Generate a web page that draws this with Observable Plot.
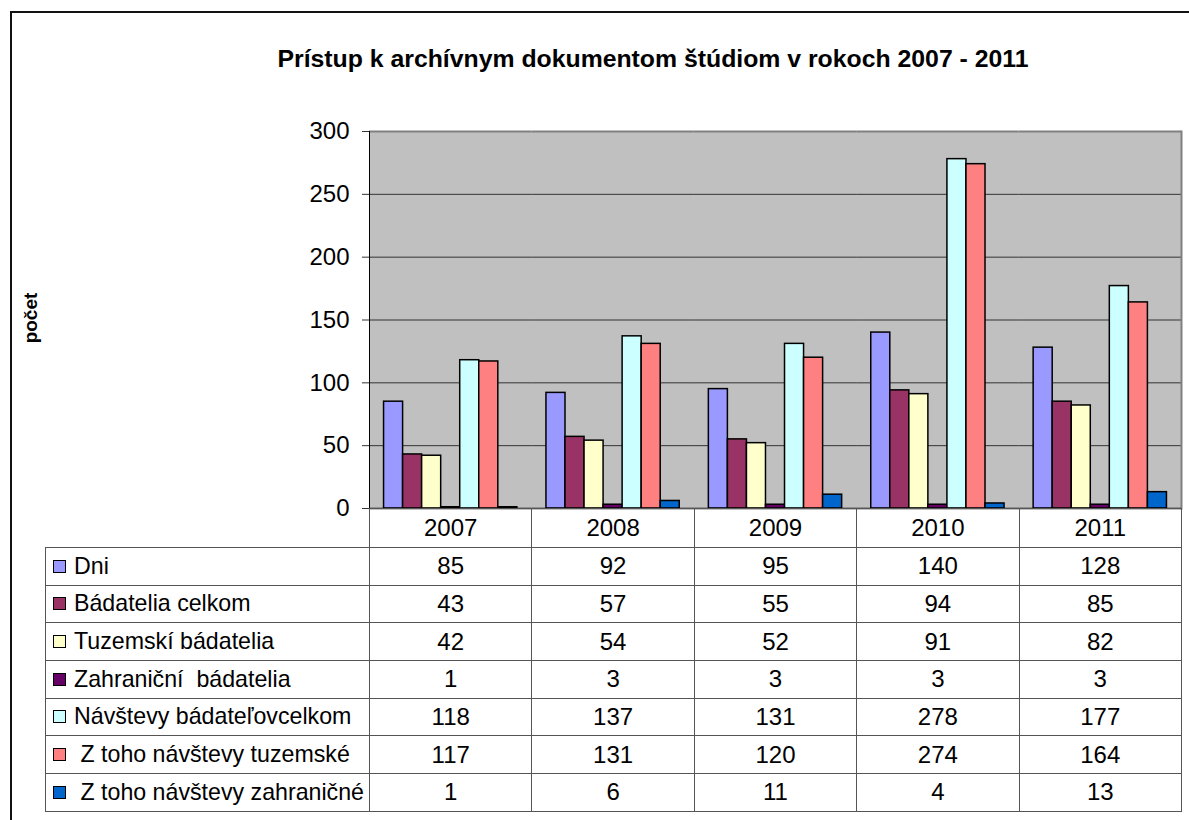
<!DOCTYPE html>
<html><head><meta charset="utf-8">
<script src="https://cdn.jsdelivr.net/npm/d3@7"></script>
<script src="https://cdn.jsdelivr.net/npm/@observablehq/plot@0.6"></script>
<style>
body{margin:0;width:1189px;height:820px;overflow:hidden;position:relative;background:#fff;font-family:"Liberation Sans",Arial,sans-serif;color:#000;}
#frame{position:absolute;left:10px;top:11px;width:1300px;height:900px;border:2px solid #111;box-sizing:border-box;}
#title{position:absolute;top:45px;left:0;width:1306px;text-align:center;font-weight:bold;font-size:24.8px;}
#ylabel{position:absolute;left:31px;top:318px;transform:translate(-50%,-50%) rotate(-90deg);font-weight:bold;font-size:19px;white-space:nowrap;}
#chart{position:absolute;left:0;top:111px;}
#tbl{position:absolute;left:45px;top:508px;border-collapse:collapse;table-layout:fixed;font-size:24px;width:1136px;}
#tbl td{border:1px solid #555;padding:0;white-space:pre;line-height:1;overflow:hidden;}
#tbl td.num{text-align:center;}
#tbl td.key{font-size:23.2px;}
#tbl tr.head td{height:38px;}
#tbl tr.row td{height:36.7px;}
#tbl td.corner{border-top:none;border-left:none;}
.sw{display:inline-block;width:11px;height:11px;border:1px solid #000;margin:0 8px 0 7px;vertical-align:1px;}
</style>
</head><body>
<div id="frame"></div>
<div id="title">Prístup k archívnym dokumentom štúdiom v rokoch 2007 - 2011</div>
<div id="ylabel">počet</div>
<div id="chart"></div>
<table id="tbl"></table>
<script>
const years = ["2007","2008","2009","2010","2011"];
const series = ["Dni","Bádatelia celkom","Tuzemskí bádatelia","Zahraniční  bádatelia","Návštevy bádateľovcelkom"," Z toho návštevy tuzemské"," Z toho návštevy zahraničné"];
const colors = ["#9999FF","#993366","#FFFFCC","#660066","#CCFFFF","#FF8080","#0066CC"];
const dni = [85,92,95,140,128];
const badateliaCelkom = [43,57,55,94,85];
const tuzemski = [42,54,52,91,82];
const zahranicni = [1,3,3,3,3];
const navstevyCelkom = [118,137,131,278,177];
const navstevyTuzemske = [117,131,120,274,164];
const navstevyZahranicne = [1,6,11,4,13];
const yTicks = [0,50,100,150,200,250,300];

const values = [dni,badateliaCelkom,tuzemski,zahranicni,navstevyCelkom,navstevyTuzemske,navstevyZahranicne];
const data = series.flatMap((s,i)=>years.map((y,j)=>({series:s,year:y,value:values[i][j]})));

const chart = Plot.plot({
  width:1189, height:398, marginLeft:369, marginRight:8, marginTop:20, marginBottom:1,
  style:{fontFamily:'"Liberation Sans",Arial,sans-serif', fontSize:"24px", color:"#000", background:"transparent", overflow:"visible"},
  fx:{domain:years, padding:0, round:false, axis:null, label:null},
  x:{domain:series, paddingInner:0, paddingOuter:0.764, round:false, axis:null, label:null},
  y:{domain:[0,300], axis:null, label:null},
  color:{domain:series, range:colors},
  marks:[
    Plot.frame({fill:"#c0c0c0", facet:"super"}),
    Plot.ruleY(yTicks.slice(1,-1), {stroke:"#333", strokeWidth:1}),
    Plot.ruleY([300], {stroke:"#808080", strokeWidth:2}),
    Plot.frame({anchor:"right", stroke:"#808080", strokeWidth:2, facet:"super"}),
    Plot.barY(data, {fx:"year", x:"series", y:"value", fill:"series", stroke:"#000", strokeWidth:1.5}),
    Plot.ruleY([0], {stroke:"#000", strokeWidth:1.5}),
    Plot.frame({anchor:"left", stroke:"#000", strokeWidth:1, facet:"super"}),
    Plot.axisY(yTicks, {tickSize:7, tickPadding:13, fontSize:24, stroke:"#333", label:null})
  ]
});
document.getElementById("chart").appendChild(chart);

// data table with legend keys
const tbl = d3.select("#tbl");
const cg = tbl.append("colgroup");
cg.append("col").style("width","324px");
years.forEach(()=>cg.append("col").style("width","162.4px"));
const head = tbl.append("tr").attr("class","head");
head.append("td").attr("class","corner");
years.forEach(y=>head.append("td").attr("class","num").text(y));
series.forEach((s,i)=>{
  const tr = tbl.append("tr").attr("class","row");
  const td = tr.append("td").attr("class","key");
  td.append("span").attr("class","sw").style("background",colors[i]);
  td.append("span").text(s);
  values[i].forEach(v=>tr.append("td").attr("class","num").text(v));
});
</script>
</body></html>
